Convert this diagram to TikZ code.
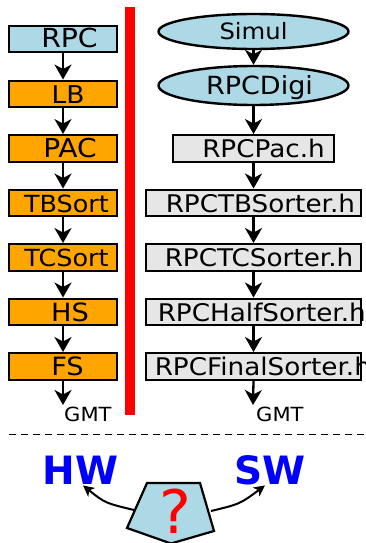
\documentclass[tikz,border=0pt]{standalone}
\usepackage{fontspec}
\setmainfont{DejaVu Sans}
\newfontfamily\bxf[FakeStretch=1.08]{DejaVu Sans}
\usetikzlibrary{arrows.meta,shapes.geometric}
\definecolor{hwor}{RGB}{255,165,0}
\definecolor{lblue}{RGB}{173,216,230}
\definecolor{lgray}{RGB}{230,230,230}
\newcommand\padtxt[3]{\makebox[#1][l]{\hspace*{#2}#3}}
\newcommand\ctrtxt[3]{\makebox[#1][c]{\hspace*{#2}#3}}
\begin{document}
\begin{tikzpicture}[x=1pt,y=-1pt,
  hwbox/.style={draw, line width=2.4pt, fill=hwor, inner xsep=0pt, inner ysep=0pt,
    minimum height=26.5pt, text height=18pt, text depth=0pt,
    font=\bxf\fontsize{#1}{28}\selectfont},
  hwbox/.default=25,
  rpcbox/.style={hwbox=#1, fill=lblue},
  swbox/.style={draw, line width=2.4pt, fill=lgray, inner xsep=0pt, inner ysep=0pt,
    minimum height=26.5pt, text height=18pt, text depth=0pt,
    font=\bxf\fontsize{24.3}{28}\selectfont},
  oval/.style={ellipse, draw, line width=2.4pt, fill=lblue, inner sep=0pt,
    text depth=0pt, minimum width=190pt},
  flow/.style={line width=2.3pt, -{Stealth[length=15pt,width=17pt,inset=4.5pt]}},
  bendarrow/.style={line width=2pt, -{Stealth[length=11pt,width=11pt,inset=3pt]}},
  gmt/.style={inner sep=0pt, text height=14pt, text depth=0pt,
    font=\bxf\fontsize{19.5}{22}\selectfont, anchor=north west},
  bigword/.style={text=blue, inner sep=1pt, text height=28.5pt, text depth=0pt,
    font=\fontsize{39}{44}\selectfont\bfseries}
]
\useasboundingbox (0,0) rectangle (365,543);

% red separator
\fill[red] (125,7) rectangle (135,415);

% hardware column
\node[rpcbox=26.2] (rpc) at (63,39)    {\ctrtxt{107.5pt}{13pt}{RPC}};
\node[hwbox=24.5]  (lb)  at (63,94)    {\ctrtxt{107.5pt}{10pt}{LB}};
\node[hwbox=26]    (pac) at (63,148.5) {\ctrtxt{107.5pt}{14pt}{PAC}};
\node[hwbox=23.6]  (tbs) at (63,203)   {\ctrtxt{107.5pt}{7pt}{TBSort}};
\node[hwbox=23.6]  (tcs) at (63,257.5) {\ctrtxt{107.5pt}{7pt}{TCSort}};
\node[hwbox=25.2]  (hs)  at (63,312)   {\ctrtxt{107.5pt}{14pt}{HS}};
\node[hwbox=25.2]  (fs)  at (63,366.5) {\ctrtxt{107.5pt}{9pt}{FS}};
\coordinate (gl) at (63,405);
\node[gmt] (gmtl) at (64,407) {GMT};

\draw[flow] (rpc.south) -- (lb.north);
\draw[flow] (lb.south) -- (pac.north);
\draw[flow] (pac.south) -- (tbs.north);
\draw[flow] (tbs.south) -- (tcs.north);
\draw[flow] (tcs.south) -- (hs.north);
\draw[flow] (hs.south) -- (fs.north);
\draw[flow] (fs.south) -- (gl);

% software column
\node[oval, minimum height=35pt, text height=16.5pt,
  font=\bxf\fontsize{22.5}{26}\selectfont] (simul) at (253.5,31.5) {Simul};
\node[oval, minimum height=39pt, text height=17.5pt,
  font=\bxf\fontsize{25}{28}\selectfont] (digi) at (253.5,85.5) {\hspace*{12pt}RPCDigi};
\node[swbox] (spac) at (253.5,148.5) {\padtxt{160.5pt}{29pt}{RPCPac.h}};
\node[swbox] (stb)  at (253.5,203)   {\padtxt{214.5pt}{19.5pt}{RPCTBSorter.h}};
\node[swbox] (stc)  at (253.5,257.5) {\padtxt{214.5pt}{18.5pt}{RPCTCSorter.h}};
\node[swbox] (shs)  at (253.5,312)   {\padtxt{214.5pt}{11.5pt}{RPCHalfSorter.h}};
\node[swbox] (sfs)  at (253.5,366.5) {\padtxt{214.5pt}{8.5pt}{RPCFinalSorter.h}};
\coordinate (gr) at (253,405);
\node[gmt] (gmtr) at (256,407) {GMT};

\draw[flow] (simul.south) -- (digi.north);
\draw[flow] (digi.south) -- (spac.north);
\draw[flow] (spac.south) -- (stb.north);
\draw[flow] (stb.south) -- (stc.north);
\draw[flow] (stc.south) -- (shs.north);
\draw[flow] (shs.south) -- (sfs.north);
\draw[flow] (sfs.south) -- (gr);

% separator
\draw[line width=1pt, dash pattern=on 7pt off 5pt] (9,434) -- (364,434);

% question
\node[bigword] (hw) at (80.5,470) {HW};
\node[bigword] (sw) at (270,470) {SW};
\coordinate (pa) at (147,483);
\coordinate (pb) at (200,483);
\coordinate (pc) at (214,531);
\coordinate (pd) at (171,543.5);
\coordinate (pe) at (127,528);
\draw[line width=2.2pt, fill=lblue, line join=miter] (pa) -- (pb) -- (pc) -- (pd) -- (pe) -- cycle;
\node[text=red, inner sep=0pt, text height=44pt, text depth=0pt,
  font=\fontsize{60}{66}\selectfont] (q) at (175,511) {?};
\coordinate (ql) at (134,510);
\coordinate (qr) at (211,511);
\draw[bendarrow] (ql) .. controls (105,503) .. ([xshift=2.5pt]hw.south);
\draw[bendarrow] (qr) .. controls (240,504) .. ([xshift=-5pt]sw.south);
\end{tikzpicture}
\end{document}
